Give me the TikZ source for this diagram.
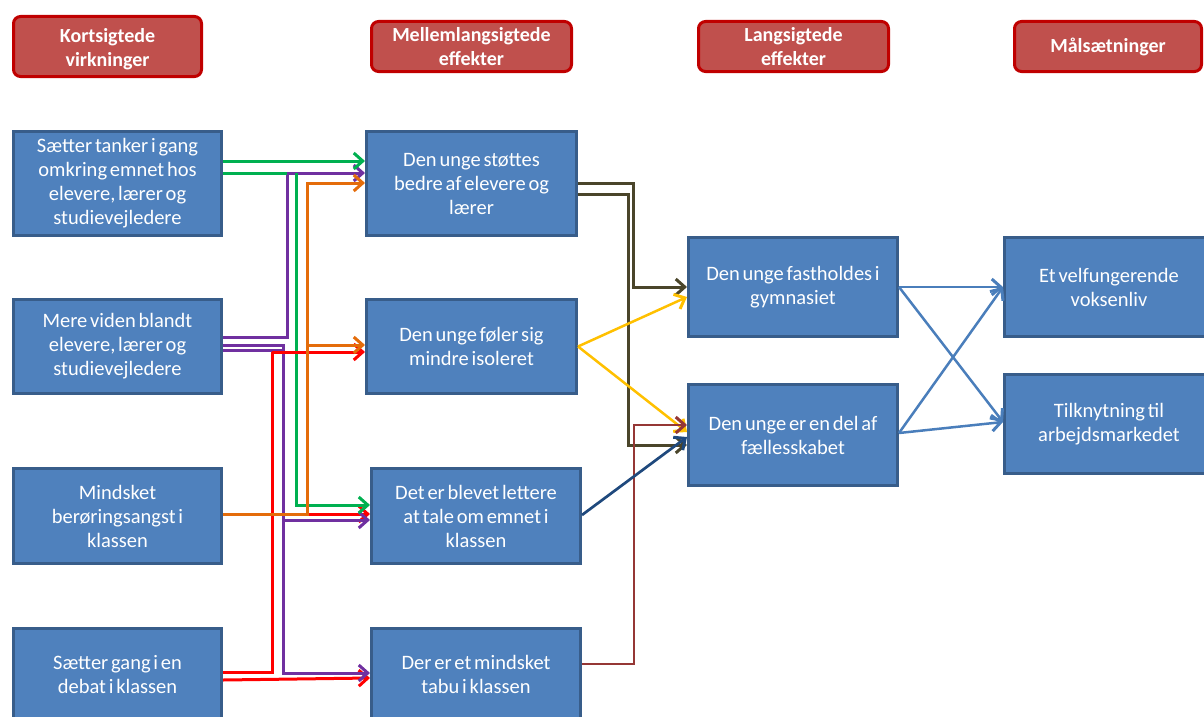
\documentclass[tikz,border=0pt]{standalone}
\usepackage{fontspec}
\setmainfont[WordSpace={0.6,0.6,0.6}]{Carlito}
\usetikzlibrary{arrows.meta}
\definecolor{boxfill}{HTML}{4F81BD}
\definecolor{boxline}{HTML}{385D8A}
\definecolor{hdfill}{HTML}{C0504D}
\definecolor{hdline}{HTML}{C00000}
\definecolor{cgreen}{HTML}{00B050}
\definecolor{cpurple}{HTML}{7030A0}
\definecolor{corange}{HTML}{E46C0A}
\definecolor{cred}{HTML}{FF0000}
\definecolor{colive}{HTML}{4A452A}
\definecolor{cyellow}{HTML}{FFC000}
\definecolor{cdred}{HTML}{953735}
\definecolor{cdblue}{HTML}{1F497D}
\definecolor{cblue}{HTML}{4A7EBB}
\tikzset{
  bx/.style={rectangle, fill=boxfill, draw=boxline, line width=3pt, text=white, align=center, inner sep=0pt,
     font=\fontsize{20.5}{24}\selectfont},
  hd/.style={rectangle, rounded corners=7pt, fill=hdfill, draw=hdline, line width=3pt, text=white, align=center,
     inner sep=0pt, font=\fontsize{20}{24}\selectfont\bfseries},
  conn/.style={line width=3pt, -{Straight Barb[length=9pt,width=16pt,line width=3pt]}},
  plain/.style={line width=3pt},
}
\begin{document}
\begin{tikzpicture}[x=1pt,y=-1pt]
\useasboundingbox (0,0) rectangle (1204,717);
\clip (0,0) rectangle (1204,717);
% headers
\node[hd, minimum width=188pt, minimum height=60pt] (H1) at (107.5,46.5) {\raisebox{-3.5pt}[\height][\depth]{\begin{tabular}{@{}c@{}}Kortsigtede\\virkninger\end{tabular}}};
\node[hd, minimum width=200pt, minimum height=50pt] (H2) at (471.5,46.5) {Mellemlangsigtede\\effekter};
\node[hd, minimum width=190pt, minimum height=50pt] (H3) at (793.5,46.5) {Langsigtede\\effekter};
\node[hd, minimum width=187pt, minimum height=50pt] (H4) at (1108,46.5) {Målsætninger};
% left column
\node[bx, minimum width=208pt, minimum height=104pt] (L1) at (117.5,183.5) {Sætter tanker i gang\\omkring emnet hos\\elevere, lærer og\\studievejledere};
\node[bx, minimum width=208pt, minimum height=94pt] (L2) at (117.5,346.5) {Mere viden blandt\\elevere, lærer og\\studievejledere};
\node[bx, minimum width=208pt, minimum height=95pt] (L3) at (117.5,516) {Mindsket\\berøringsangst i\\klassen};
\node[bx, minimum width=208pt, minimum height=92pt] (L4) at (117.5,674.5) {Sætter gang i en\\debat i klassen};
% middle column
\node[bx, minimum width=210pt, minimum height=104pt] (M1) at (471.5,183.5) {Den unge støttes\\bedre af elevere og\\lærer};
\node[bx, minimum width=210pt, minimum height=94pt] (M2) at (471.5,346.5) {Den unge føler sig\\mindre isoleret};
\node[bx, minimum width=209pt, minimum height=95pt] (M3) at (476,516) {Det er blevet lettere\\at tale om emnet i\\klassen};
\node[bx, minimum width=209pt, minimum height=92pt] (M4) at (476,674.5) {Der er et mindsket\\tabu i klassen};
% long-term
\node[bx, minimum width=209pt, minimum height=99pt] (R1) at (793,287) {Den unge fastholdes i\\gymnasiet};
\node[bx, minimum width=209pt, minimum height=101pt] (R2) at (793,435) {Den unge er en del af\\fællesskabet};
% goals
\node[bx, minimum width=209pt, minimum height=99pt] (F1) at (1109,287) {Et velfungerende\\voksenliv};
\node[bx, minimum width=209pt, minimum height=99pt] (F2) at (1109,424) {Tilknytning til\\arbejdsmarkedet};
% left connectors
\draw[conn, cred] ([yshift=-5.5pt]L4.east) -- ([yshift=-3.5pt]M4.west);
\draw[conn, cred] ([yshift=2.5pt]L4.east) -- (272,672) |- ([yshift=-5.5pt]M2.west);
\draw[conn, cred] (272,514) -- ([yshift=2pt]M3.west);
\draw[conn, cpurple] ([yshift=9.5pt]L2.east) -- (287,337) |- ([yshift=10.5pt]M1.west);
\draw[conn, cpurple] ([yshift=1.5pt]L2.east) -- (283,345) |- ([yshift=-4pt]M3.west);
\draw[conn, cpurple] ([yshift=-3.5pt]L2.east) -- (283,350) |- ([yshift=1.5pt]M4.west);
\draw[conn, cgreen] ([yshift=22.5pt]L1.east) -- ([yshift=22.5pt]M1.west);
\draw[plain, cgreen] ([yshift=10.5pt]L1.east) -- (287,173);
\draw[conn, cgreen] (296,173) |- ([yshift=11pt]M3.west);
\draw[conn, corange] ([yshift=2pt]L3.east) -- (307,514) |- ([yshift=0.5pt]M1.west);
\draw[conn, corange] (307,345) -- ([yshift=1.5pt]M2.west);
\draw[plain, cred] (272,352) -- (300,352);
% middle connectors
\draw[conn, colive] ([yshift=0.5pt]M1.east) -- (633,183) |- (R1.west);
\draw[conn, colive] ([yshift=-10.5pt]M1.east) -- (628,194) |- ([yshift=-10pt]R2.west);
\draw[conn, cyellow, line width=2.5pt] (M2.east) -- ([yshift=-10pt]R1.west);
\draw[conn, cyellow, line width=2.5pt] (M2.east) -- ([yshift=3pt]R2.west);
\draw[conn, cdred, line width=2.5pt] ([yshift=10.5pt]M4.east) -- (634,664) |- ([yshift=10pt]R2.west);
\draw[conn, cdblue, line width=2.7pt] ([yshift=1pt]M3.east) -- ([yshift=-2pt]R2.west);
% right connectors
\draw[conn, cblue, line width=2.5pt] (R1.east) -- (F1.west);
\draw[conn, cblue, line width=2.5pt] (R1.east) -- ([yshift=2pt]F2.west);
\draw[conn, cblue, line width=2.5pt] ([yshift=2pt]R2.east) -- (F1.west);
\draw[conn, cblue, line width=2.5pt] ([yshift=2pt]R2.east) -- ([yshift=2pt]F2.west);
\end{tikzpicture}
\end{document}
